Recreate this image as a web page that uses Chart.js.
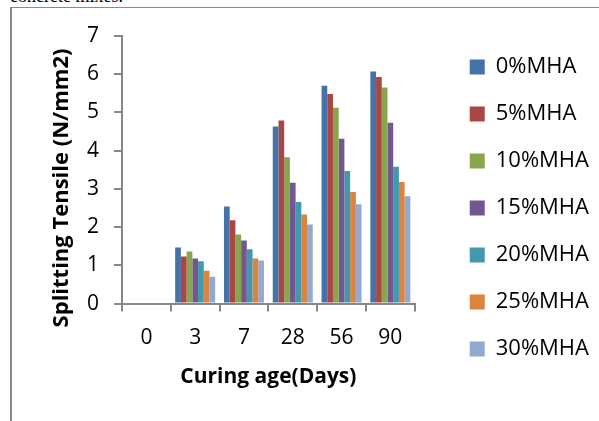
<!DOCTYPE html>
<html>
<head>
<meta charset="utf-8">
<script src="https://cdn.jsdelivr.net/npm/chart.js@4/dist/chart.umd.min.js"></script>
<style>
  html, body { margin: 0; padding: 0; background: #fff; }
  #wrap { position: relative; width: 599px; height: 421px; overflow: hidden; }
  #frame { position: absolute; left: 10px; top: 7px; right: -5px; bottom: -5px;
           border-top: 1px solid #8a8a8a; border-left: 2px solid #8a8a8a; pointer-events: none; }
  #above { position: absolute; left: 10px; top: -13px; font: 18px/18px "Liberation Serif", serif; color: #000; }
  #box { position: absolute; left: 0; top: 0; width: 599px; height: 421px; }
</style>
</head>
<body>
<div id="wrap">
  <div id="above">concrete mixes.</div>
  <div id="frame"></div>
  <div id="box"><canvas id="chart"></canvas></div>
</div>
<script>
const days = ["0", "3", "7", "28", "56", "90"];
const seriesNames = ["0%MHA", "5%MHA", "10%MHA", "15%MHA", "20%MHA", "25%MHA", "30%MHA"];
const mha0 = [0, 1.47, 2.54, 4.63, 5.70, 6.07];
const mha5 = [0, 1.23, 2.18, 4.79, 5.48, 5.93];
const mha10 = [0, 1.36, 1.81, 3.83, 5.12, 5.65];
const mha15 = [0, 1.18, 1.65, 3.16, 4.31, 4.73];
const mha20 = [0, 1.11, 1.42, 2.66, 3.47, 3.58];
const mha25 = [0, 0.86, 1.18, 2.33, 2.92, 3.18];
const mha30 = [0, 0.70, 1.13, 2.07, 2.60, 2.81];
const yTicks = [0, 1, 2, 3, 4, 5, 6, 7];

const colors = ["#4572A7", "#AA4643", "#89A54E", "#71588F", "#4198AF", "#DB843D", "#93A9CF"];
const allSeries = [mha0, mha5, mha10, mha15, mha20, mha25, mha30];
const axisGray = "#868686";
const FONT = "'Open Sans', 'Noto Sans', sans-serif";

// y title is drawn by hand, it sits lower than the plot centre in the original
const yTitle = {
  id: "yTitle",
  afterDraw(chart) {
    const c = chart.ctx;
    c.save();
    c.translate(62, 188);
    c.rotate(-Math.PI / 2);
    c.font = "bold 22px " + FONT;
    c.fillStyle = "#000";
    c.textAlign = "center";
    c.textBaseline = "middle";
    c.fillText("Splitting Tensile (N/mm2)", 0, 0);
    c.restore();
  }
};

new Chart(document.getElementById("chart"), {
  type: "bar",
  data: {
    labels: days,
    datasets: seriesNames.map((name, i) => ({
      label: name,
      data: allSeries[i],
      backgroundColor: colors[i],
      borderWidth: 0,
      categoryPercentage: 0.82,
      barPercentage: 1
    }))
  },
  options: {
    responsive: true,
    maintainAspectRatio: false,
    animation: false,
    layout: { padding: { top: 31, right: 0, bottom: 31, left: 0 } },
    plugins: {
      title: { display: true, text: "", font: { size: 5, lineHeight: 1 }, padding: 0 },
      tooltip: { enabled: false },
      legend: {
        position: "right",
        align: "start",
        maxWidth: 300,
        labels: {
          boxWidth: 15,
          boxHeight: 15,
          padding: 25,
          color: "#000",
          font: { family: FONT, size: 22 }
        }
      }
    },
    scales: {
      x: {
        grid: { drawOnChartArea: false, color: axisGray, lineWidth: 2, tickLength: 8, offset: true },
        border: { color: axisGray, width: 2 },
        ticks: { color: "#000", padding: 14, font: { family: FONT, size: 21 } },
        title: {
          display: true,
          text: "Curing age(Days)",
          color: "#000",
          padding: { top: 0, bottom: 0 },
          font: { family: FONT, size: 21, weight: "bold" }
        }
      },
      y: {
        min: 0,
        max: 7,
        afterFit(scale) { scale.width = 122; },
        afterBuildTicks(scale) { scale.ticks = yTicks.map(v => ({ value: v })); },
        grid: { drawOnChartArea: false, color: axisGray, lineWidth: 2, tickLength: 8 },
        border: { color: axisGray, width: 2 },
        ticks: { color: "#000", padding: 15, font: { family: FONT, size: 21 } }
      },
      gap: {
        position: "right",
        afterFit(scale) { scale.width = 30; },
        grid: { display: false },
        border: { display: false },
        ticks: { display: false }
      }
    }
  },
  plugins: [yTitle]
});
</script>
</body>
</html>
